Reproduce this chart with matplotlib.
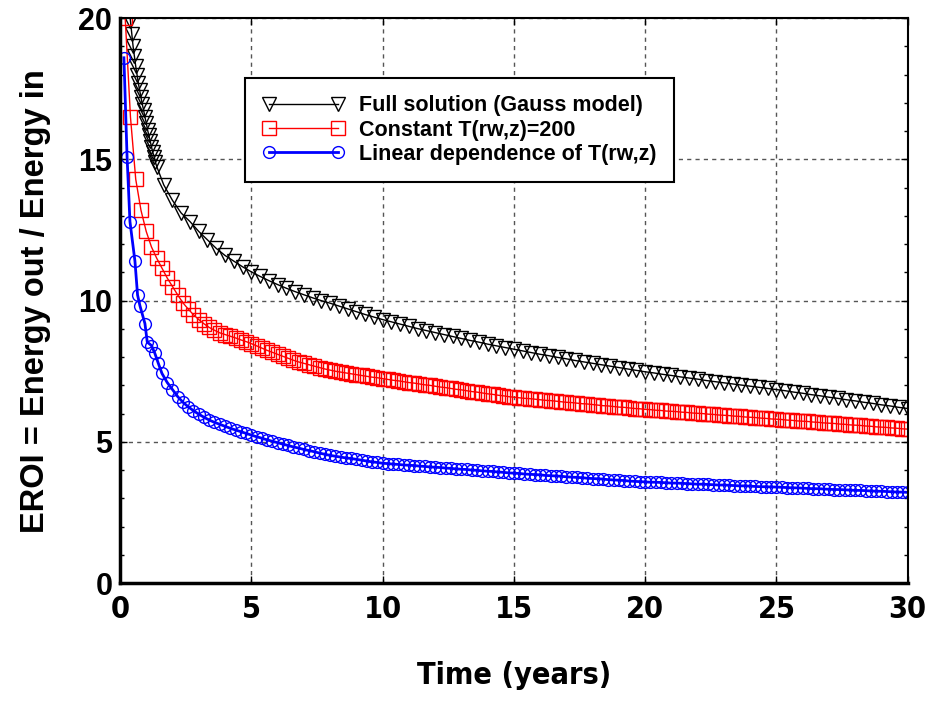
import numpy as np
import matplotlib
matplotlib.use("Agg")
import matplotlib.pyplot as plt
from matplotlib.ticker import MultipleLocator

# ---------------- data ----------------
# Full solution (Gauss model): 0.35..1.4 every 0.05 yr, then every 1/3 yr
t_gauss_early = [0.35, 0.4, 0.45, 0.5, 0.55, 0.6, 0.65, 0.7, 0.75, 0.8, 0.85,
                 0.9, 0.95, 1.0, 1.05, 1.1, 1.15, 1.2, 1.25, 1.3, 1.35, 1.4]
eroi_gauss = [
    20.4, 19.9, 19.45, 19.0, 18.65, 18.3, 18.0, 17.7, 17.45, 17.2, 16.95,
    16.75, 16.5, 16.3, 16.05, 15.85, 15.65, 15.45, 15.25, 15.1, 14.9, 14.75,
    14.1, 13.55, 13.1, 12.8, 12.45, 12.15, 11.85, 11.6, 11.4, 11.2,
    11.02, 10.86, 10.71, 10.57, 10.44, 10.32, 10.21, 10.1, 10.0, 9.91,
    9.81, 9.71, 9.61, 9.51, 9.42, 9.33, 9.25, 9.17, 9.09, 9.01,
    8.94, 8.87, 8.8, 8.73, 8.66, 8.59, 8.53, 8.46, 8.4, 8.34,
    8.28, 8.22, 8.16, 8.1, 8.05, 7.99, 7.94, 7.88, 7.83, 7.78,
    7.73, 7.68, 7.63, 7.58, 7.53, 7.48, 7.44, 7.39, 7.35, 7.3,
    7.26, 7.22, 7.17, 7.13, 7.09, 7.05, 7.01, 6.97, 6.93, 6.89,
    6.85, 6.81, 6.76, 6.72, 6.67, 6.63, 6.58, 6.54, 6.49, 6.45,
    6.4, 6.36, 6.31, 6.27, 6.22, 6.18,
]

# Constant T(rw,z)=200: every 0.2 yr from 0.2
eroi_const = [
    20.0, 16.5, 14.3, 13.2, 12.45, 11.9, 11.5, 11.15, 10.8, 10.5,
    10.2, 9.92, 9.7, 9.5, 9.33, 9.18, 9.05, 8.95, 8.86, 8.8,
    8.74, 8.68, 8.61, 8.55, 8.48, 8.4, 8.32, 8.24, 8.17, 8.1,
    8.03, 7.96, 7.89, 7.83, 7.78, 7.73, 7.68, 7.63, 7.58, 7.54,
    7.5, 7.47, 7.44, 7.41, 7.38, 7.35, 7.32, 7.29, 7.27, 7.24,
    7.21, 7.18, 7.16, 7.13, 7.1, 7.08, 7.05, 7.02, 7.0, 6.97,
    6.94, 6.92, 6.89, 6.86, 6.84, 6.81, 6.78, 6.76, 6.73, 6.7,
    6.68, 6.65, 6.63, 6.6, 6.58, 6.56, 6.54, 6.53, 6.51, 6.49,
    6.47, 6.46, 6.44, 6.42, 6.4, 6.39, 6.37, 6.35, 6.34, 6.32,
    6.3, 6.28, 6.27, 6.25, 6.23, 6.22, 6.2, 6.18, 6.17, 6.15,
    6.14, 6.12, 6.11, 6.09, 6.08, 6.07, 6.05, 6.04, 6.02, 6.01,
    6.0, 5.98, 5.97, 5.95, 5.94, 5.93, 5.91, 5.9, 5.88, 5.87,
    5.86, 5.84, 5.83, 5.81, 5.8, 5.79, 5.77, 5.76, 5.74, 5.73,
    5.72, 5.7, 5.69, 5.67, 5.66, 5.65, 5.63, 5.62, 5.6, 5.59,
    5.58, 5.56, 5.55, 5.53, 5.52, 5.51, 5.49, 5.48, 5.46, 5.45,
]

# Linear dependence of T(rw,z): irregular early samples, then every 0.2 yr from 1.6
t_linear_early = [0.15, 0.27, 0.38, 0.57, 0.67, 0.76, 0.95, 1.04, 1.2, 1.33, 1.46]
eroi_linear = [
    18.6, 15.1, 12.8, 11.4, 10.2, 9.82, 9.19, 8.53, 8.41, 8.13, 7.78,
    7.42, 7.1, 6.85, 6.6, 6.4, 6.24, 6.1, 5.98, 5.87, 5.77,
    5.69, 5.62, 5.55, 5.48, 5.42, 5.36, 5.3, 5.24, 5.18, 5.13,
    5.07, 5.02, 4.97, 4.92, 4.87, 4.82, 4.78, 4.73, 4.69, 4.65,
    4.6, 4.56, 4.52, 4.49, 4.46, 4.43, 4.41, 4.38, 4.35, 4.32,
    4.29, 4.27, 4.24, 4.23, 4.21, 4.2, 4.18, 4.17, 4.16, 4.14,
    4.13, 4.11, 4.1, 4.09, 4.07, 4.06, 4.04, 4.03, 4.02, 4.0,
    3.99, 3.97, 3.96, 3.95, 3.93, 3.92, 3.9, 3.89, 3.88, 3.86,
    3.85, 3.84, 3.83, 3.81, 3.8, 3.79, 3.78, 3.76, 3.75, 3.74,
    3.73, 3.71, 3.7, 3.69, 3.68, 3.66, 3.65, 3.64, 3.63, 3.61,
    3.6, 3.59, 3.58, 3.57, 3.57, 3.56, 3.55, 3.54, 3.54, 3.53,
    3.52, 3.51, 3.5, 3.5, 3.49, 3.48, 3.47, 3.47, 3.46, 3.45,
    3.44, 3.44, 3.43, 3.42, 3.41, 3.41, 3.4, 3.4, 3.39, 3.38,
    3.37, 3.37, 3.36, 3.35, 3.34, 3.34, 3.33, 3.32, 3.31, 3.31,
    3.3, 3.29, 3.28, 3.28, 3.27, 3.26, 3.25, 3.25, 3.24, 3.23,
    3.22, 3.22, 3.21,
]

labels = ["Full solution (Gauss model)", "Constant T(rw,z)=200",
          "Linear dependence of T(rw,z)"]

# sample times
n_g = len(eroi_gauss) - len(t_gauss_early)
t_gauss = np.r_[t_gauss_early, (4 + np.arange(1, n_g + 1)) / 3.0]
t_const = 0.2 * np.arange(1, len(eroi_const) + 1)
n_l = len(eroi_linear) - len(t_linear_early)
t_linear = np.r_[t_linear_early, 1.4 + 0.2 * np.arange(1, n_l + 1)]

# ---------------- plot ----------------
bold = ["Liberation Sans", "DejaVu Sans"]

fig = plt.figure(figsize=(9.3, 7.02), dpi=100)
ax = fig.add_axes([0.129, 0.1695, 0.847, 0.8045])

ax.plot(t_gauss, eroi_gauss, color="black", lw=1.0, marker="v", ms=10,
        mfc="none", mec="black", mew=1.0, label=labels[0])
ax.plot(t_const, eroi_const, color="red", lw=1.0, marker="s", ms=10,
        mfc="none", mec="red", mew=1.0, label=labels[1])
ax.plot(t_linear, eroi_linear, color="blue", lw=2.0, marker="o", ms=8.5,
        mfc="none", mec="blue", mew=1.0, label=labels[2])

ax.set_xlim(0, 30)
ax.set_ylim(0, 20)
ax.xaxis.set_major_locator(MultipleLocator(5))
ax.yaxis.set_major_locator(MultipleLocator(5))
ax.yaxis.set_minor_locator(MultipleLocator(1))

ax.grid(True, which="major", color="#555555", lw=1.0, ls=(0, (3, 3)))
ax.tick_params(which="both", direction="in", top=True, right=True)
ax.tick_params(which="major", length=5, width=1)
ax.tick_params(which="minor", length=3, width=1)
ax.tick_params(axis="x", pad=8.5)
ax.tick_params(axis="y", pad=5.5)

for s in ["left", "bottom"]:
    ax.spines[s].set_linewidth(2.5)
for s in ["top", "right"]:
    ax.spines[s].set_linewidth(1.5)

for lab in ax.get_yticklabels():
    lab.set_fontfamily(bold)
    lab.set_fontweight("bold")
    lab.set_fontsize(22)
for lab in ax.get_xticklabels():
    lab.set_fontfamily("DejaVu Sans")
    lab.set_fontstretch("condensed")
    lab.set_fontweight("bold")
    lab.set_fontsize(22)

ax.set_xlabel("Time (years)", fontfamily="DejaVu Sans", fontstretch="condensed",
              fontweight="bold", fontsize=22, labelpad=27)
ax.set_ylabel("EROI = Energy out / Energy in", fontfamily=bold,
              fontweight="bold", fontsize=23.5, labelpad=20)

leg = ax.legend(loc="upper left", bbox_to_anchor=(0.159, 0.894), numpoints=2,
                handlelength=3.8, handletextpad=0.7, borderaxespad=0,
                fancybox=False, framealpha=1, edgecolor="black",
                borderpad=0.8, labelspacing=0.15,
                prop={"family": bold, "weight": "bold", "size": 15.5})
leg.get_frame().set_linewidth(1.5)

fig.savefig("out.png", dpi=100)
